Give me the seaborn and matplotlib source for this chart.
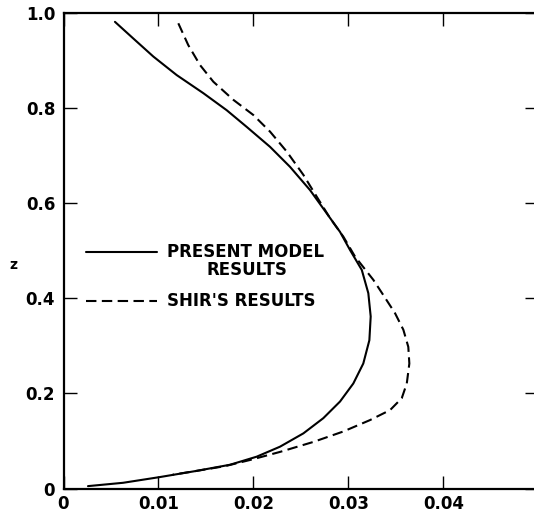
import matplotlib
matplotlib.use("Agg")
import matplotlib.pyplot as plt
import seaborn as sns
import pandas as pd

# Present model results (x, z)
present_x = [0.00542, 0.00735, 0.00946, 0.01192, 0.01472, 0.01719, 0.01929, 0.02175,
             0.02385, 0.02596, 0.02772, 0.02912, 0.03017, 0.03141, 0.03210, 0.03235,
             0.03221, 0.03157, 0.03052, 0.02912, 0.02736, 0.02526, 0.02280, 0.02035,
             0.01754, 0.01399, 0.01013, 0.00627, 0.00258]
present_z = [0.982, 0.947, 0.909, 0.870, 0.832, 0.796, 0.761, 0.719,
             0.677, 0.628, 0.579, 0.540, 0.502, 0.460, 0.411, 0.362,
             0.312, 0.263, 0.221, 0.183, 0.148, 0.116, 0.088, 0.067,
             0.050, 0.037, 0.024, 0.012, 0.005]

# Shir's results (x, z)
shir_x = [0.01209, 0.01314, 0.01438, 0.01578, 0.01788, 0.01999, 0.02175, 0.02351,
          0.02526, 0.02667, 0.02807, 0.02947, 0.03070, 0.03141, 0.03263, 0.03368,
          0.03491, 0.03579, 0.03631, 0.03642, 0.03615, 0.03562, 0.03439, 0.03228,
          0.02947, 0.02631, 0.02280, 0.01964, 0.01700, 0.01399, 0.01150]
shir_z = [0.979, 0.933, 0.891, 0.856, 0.818, 0.786, 0.751, 0.709,
          0.660, 0.614, 0.569, 0.530, 0.488, 0.470, 0.439, 0.407,
          0.369, 0.334, 0.298, 0.263, 0.221, 0.190, 0.165, 0.144,
          0.120, 0.098, 0.077, 0.060, 0.047, 0.037, 0.029]

x_ticks = [0, 0.01, 0.02, 0.03, 0.04]
x_ticklabels = ["0", "0.01", "0.02", "0.03", "0.04"]
y_ticks = [0, 0.2, 0.4, 0.6, 0.8, 1.0]
y_ticklabels = ["0", "0.2", "0.4", "0.6", "0.8", "1.0"]

legend_present = "PRESENT MODEL"
legend_present2 = "RESULTS"
legend_shir = "SHIR'S RESULTS"

sns.set_style("ticks")
plt.rcParams["font.family"] = ["DejaVu Sans"]
plt.rcParams["text.color"] = "black"
plt.rcParams["axes.labelcolor"] = "black"

fig = plt.figure(figsize=(5.34, 5.14), dpi=100)
W, H = 534, 514
left, right, bottom, top = 63.5, 538.3, 488.5, 13.3
ax = fig.add_axes([left / W, (H - bottom) / H, (right - left) / W, (bottom - top) / H])

df_p = pd.DataFrame({"x": present_x, "z": present_z})
df_s = pd.DataFrame({"x": shir_x, "z": shir_z})

dash = (0, (5.0, 2.6))
sns.lineplot(data=df_p, x="x", y="z", sort=False, estimator=None, ax=ax,
             color="black", lw=1.5)
sns.lineplot(data=df_s, x="x", y="z", sort=False, estimator=None, ax=ax,
             color="black", lw=1.5, linestyle=dash)

ax.set_xlim(0, 0.05)
ax.set_ylim(0, 1.0)
ax.set_xticks(x_ticks)
ax.set_xticklabels(x_ticklabels)
ax.set_yticks(y_ticks)
ax.set_yticklabels(y_ticklabels)
ax.tick_params(axis="both", direction="in", length=9.5, width=1.0,
               labelsize=12, top=True, right=True, colors="black",
               labelcolor="black")
for lab in ax.get_xticklabels() + ax.get_yticklabels():
    lab.set_fontweight("bold")
ax.tick_params(axis="y", pad=6)
ax.tick_params(axis="x", pad=5)
for s in ["left", "bottom", "top"]:
    ax.spines[s].set_linewidth(1.6)
    ax.spines[s].set_color("black")
ax.spines["right"].set_visible(False)

ax.set_xlabel("")
ax.set_ylabel("z", rotation=0, fontsize=10, fontweight="bold", va="center", ha="center")
ax.yaxis.set_label_coords(-0.105, 0.47)

# legend drawn by hand, in data coordinates
leg_x = [0.00237, 0.00985]
ax.plot(leg_x, [0.498, 0.498], color="black", lw=1.5)
ax.plot(leg_x, [0.395, 0.395], color="black", lw=1.5, linestyle=dash)
ax.text(0.0109, 0.498, legend_present, fontsize=12, fontweight="bold",
        va="center", ha="left")
ax.text(0.0151, 0.460, legend_present2, fontsize=12, fontweight="bold",
        va="center", ha="left")
ax.text(0.0109, 0.395, legend_shir, fontsize=12, fontweight="bold",
        va="center", ha="left")

fig.savefig("out.png", dpi=100)
